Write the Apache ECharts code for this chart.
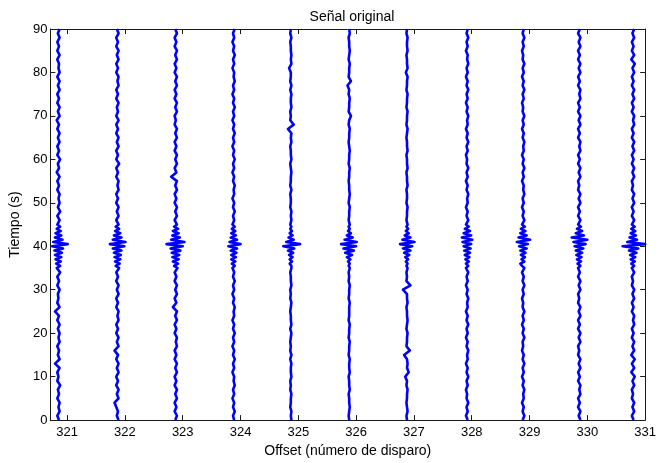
<!DOCTYPE html>
<html>
<head>
<meta charset="utf-8">
<script src="https://cdn.jsdelivr.net/npm/echarts@6/dist/echarts.min.js"></script>
<style>
html,body{margin:0;padding:0;background:#fff;}
#chart{width:659px;height:463px;}
</style>
</head>
<body>
<div id="chart"></div>
<script>
// Offset (número de disparo) de cada traza
const posiciones = [320.85, 321.87, 322.88, 323.88, 324.87, 325.88, 326.88, 327.92, 328.89, 329.86, 330.79];
// Marcas de los ejes
const marcasX = [321, 322, 323, 324, 325, 326, 327, 328, 329, 330, 331];
const marcasY = [0, 10, 20, 30, 40, 50, 60, 70, 80, 90];

// Muestreo temporal (s): 0..35 cada 1 s, 35.5..45 cada 0.5 s, 46..90 cada 1 s
const tiempos = [];
for (let t = 0; t <= 35; t++) tiempos.push(t);
for (let t = 35.5; t <= 45; t += 0.5) tiempos.push(t);
for (let t = 46; t <= 90; t++) tiempos.push(t);

// Amplitudes de cada traza (centésimas de unidad de offset)
const traza1 = [
  1,-2,2,0,2,-2,1,-1,3,-2, 0,-2,2,-6,2,-1,1,-2,2,0, 2,-1,2,-2,1,-6,2,-2,0,-1, 2,-2,1,-2,3,-3,
  3,-4,4,-5,5,-6,6,-7,8,-11, 16,-9,7,-6,5,-5,4,-3,3,-2,
  2,-2,3,-1,2,0,2,-2,1,-2, 2,-3,1,-1,3,-2,1,-2,2,-1, 2,-2,1,-3,2,-1,2,-2,1,-2, 2,-1,2,-2,2,0,1,-2,2,-2, 1,-2,2,-1,2
];
const traza2 = [
  2,-1,1,-2,-5,2,-1,2,-2,1, -2,2,-1,2,-2,1,-5,2,-1,2, -2,1,-2,2,0,2,-2,1,-2,2, -1,2,-2,1,-2,3,
  -3,4,-4,5,-5,6,-6,7,-8,12, -13,14,-8,7,-6,5,-4,3,-3,2,
  -2,2,-1,2,-2,1,-2,2,0,2, -2,1,-2,3,-2,1,-2,2,-1,2, -2,1,-2,2,-2,1,-1,2,-2,1, -2,2,0,2,-2,1,-2,2,-1,2, -2,1,-2,2,-1
];
const traza3 = [
  -1,2,-2,1,-2,2,-1,2,-2,1, -2,2,-1,2,-2,1,-2,2,0,2, -2,1,-2,2,-1,2,-5,1,-2,2, -1,2,-2,1,-2,3,
  -3,4,-5,5,-6,6,-7,8,-9,12, -16,15,-8,7,-6,5,-5,4,-3,2,
  -2,2,-1,2,-2,1,-2,2,-1,2, -8,1,-2,2,-1,2,-2,1,-2,2, -1,2,-2,0,-2,2,-1,2,-2,1, -2,2,-1,2,-2,1,-2,2,-1,2, -2,1,-2,2,-1
];
const traza4 = [
  1,-1,2,-1,1,-2,1,-1,2,0, 1,-2,1,-1,2,-1,1,-2,1,-1, 2,-1,1,-2,1,0,2,-1,1,-2, 1,-1,2,-1,1,-2,
  2,-3,3,-4,4,-4,5,-5,6,-9, 12,-7,6,-5,4,-4,3,-3,2,-2,
  1,-1,2,-1,1,-2,1,0,2,-1, 1,-2,1,-1,2,-1,1,-2,1,-1, 2,-1,1,-2,1,-1,2,-1,1,-2, 1,-1,2,0,1,-2,1,-1,2,-1, 1,-2,1,-1,2
];
const traza5 = [
  1,0,1,-1,0,0,1,-1,0,-1, 1,0,0,1,-1,1,-1,0,-1,0, 1,-1,1,0,0,-1,0,1,-1,0, -1,1,0,0,-1,1,
  1,-2,2,-2,3,-3,4,-5,6,-13, 16,-8,5,-4,3,-2,2,-1,1,-1,
  1,0,1,-1,0,0,-1,1,-1,0, 0,1,0,-1,1,0,0,-1,1,0, 1,-5,5,-1,0,-1,1,0,0,1, -1,1,-1,0,0,-3,1,0,1,0, 0,-1,1,-1,0
];
const traza6 = [
  0,-1,0,1,0,0,-1,1,0,0, -1,1,0,0,1,-1,0,0,1,-1, 0,0,1,-1,0,0,0,1,-1,0, 0,1,-1,0,-1,1,
  -1,1,-2,2,-4,5,-7,8,-10,12, -14,13,-8,6,-4,3,-2,1,-1,1,
  -1,0,0,1,-1,0,1,0,0,-1, 0,0,1,-1,0,0,1,0,-1,0, 0,1,-1,0,3,-1,0,0,1,-1, 0,-3,3,-1,0,0,1,-1,0,1, 0,0,-1,1,0
];
const traza7 = [
  0,-1,1,0,-1,0,0,1,-1,0, -3,3,0,1,0,-5,5,-1,0,0, 1,-1,0,1,0,0,-1,1,0,0, -7,6,-1,0,-1,1,
  -1,1,-2,2,-3,4,-5,6,-7,9, -12,13,-8,6,-4,3,-2,2,-1,1,
  -1,0,0,1,-1,0,0,-1,1,0, 0,-1,1,0,0,-1,1,0,0,-1, 0,1,-1,0,0,1,-1,0,0,1, -1,0,0,1,-2,1,0,0,-1,1, 0,0,1,-1,0
];
const traza8 = [
  1,-2,1,-1,2,-1,0,-2,1,-1, 2,-1,1,-2,1,0,2,-1,1,-2, 1,-1,2,-1,1,-2,1,0,2,-1, 1,-2,1,-1,2,-2,
  2,-2,3,-3,4,-4,5,-5,6,-6, 7,-8,9,-9,7,-6,5,-4,3,-2,
  2,-1,1,-2,1,0,2,-1,1,-2, 1,-1,2,-1,0,-2,1,-1,2,-1, 1,-2,1,0,2,-1,1,-2,1,-1, 2,-1,1,-2,1,-1,2,0,1,-2, 1,-1,2,-1,1
];
const traza9 = [
  -1,2,-1,1,-2,1,0,2,-1,1, -2,1,-1,2,-1,1,-2,0,-1,2, -1,1,-2,1,-1,2,-1,0,-2,1, -1,2,-1,1,-2,2,
  -2,-5,2,-3,3,-4,4,-5,6,-7, 8,-11,12,-8,6,-5,4,-4,3,-2,
  2,-1,1,-2,1,-1,2,0,1,-2, 1,-1,2,-1,1,-2,1,0,2,-1, 1,-2,1,-1,2,-1,0,-2,1,-1, 2,-1,1,-2,1,-1,2,-1,0,-2, 1,-1,2,-1,1
];
const traza10 = [
  2,-1,2,-2,1,-2,2,0,2,-2, 1,-2,2,-1,2,-2,0,-2,2,-1, 2,-2,1,-2,2,-1,2,-2,0,-2, 2,-1,2,-2,1,-2,
  2,-3,3,-4,4,-5,5,-6,7,-8, 11,-10,14,-13,8,-6,5,-4,3,-2,
  2,-2,1,-2,2,-1,2,-2,0,-2, 2,-1,2,-2,1,-2,2,0,2,-2, 1,-2,2,-1,2,-2,1,-2,2,0, 2,-2,1,-2,2,-1,2,-2,1,-2, 2,-1,2,-2,1
];
const traza11 = [
  1,-2,2,-1,2,-2,0,-2,2,-1, 3,-3,2,-2,3,-3,2,-1,2,-2, 1,-2,2,0,2,-2,1,-2,2,-1, 2,-2,0,-2,2,-2,
  2,-3,3,-4,4,-5,6,-7,9,-18, 21,-10,7,-6,5,-4,4,-3,3,-2,
  2,-2,1,-2,2,-1,2,-2,0,-2, 2,-1,2,-2,1,-2,2,-1,2,-2, 1,-2,2,0,2,-2,1,-2,2,-1, 2,-2,1,-2,2,-1,3,-3,2,-2, 1,-2,2,-1,2
];
const trazas = [traza1, traza2, traza3, traza4, traza5, traza6, traza7, traza8, traza9, traza10, traza11];

const FONT = '"Liberation Sans", Arial, Helvetica, sans-serif';
const AXIS_COLOR = '#1a1a1a';

const series = trazas.map((amp, k) => ({
  type: 'line',
  xAxisIndex: 0,
  yAxisIndex: 0,
  showSymbol: false,
  symbol: 'none',
  silent: true,
  clip: true,
  lineStyle: { color: '#0000ff', width: 2.6, join: 'round', cap: 'butt' },
  data: amp.map((a, i) => [posiciones[k] + a / 100, tiempos[i]])
}));

const chart = echarts.init(document.getElementById('chart'), null, { renderer: 'canvas' });
chart.setOption({
  animation: false,
  backgroundColor: '#ffffff',
  title: {
    text: 'Señal original',
    left: 347,
    textAlign: 'center',
    top: 5,
    textStyle: { fontFamily: FONT, fontSize: 14, fontWeight: 'normal', color: '#000' }
  },
  grid: { left: 46, top: 29, right: 11, bottom: 40, containLabel: false },
  xAxis: [
    {
      type: 'value', position: 'bottom', min: 320.71, max: 331,
      name: 'Offset (número de disparo)', nameLocation: 'middle', nameGap: 22,
      nameTextStyle: { fontFamily: FONT, fontSize: 14, color: '#000' },
      axisLine: { show: true, onZero: false, lineStyle: { color: AXIS_COLOR, width: 1 } },
      axisTick: { show: true, inside: true, length: 5, customValues: marcasX, lineStyle: { color: AXIS_COLOR } },
      axisLabel: { show: true, customValues: marcasX, margin: 6, fontFamily: FONT, fontSize: 13, color: '#000',
        formatter: v => String(Math.round(v)) },
      splitLine: { show: false }
    },
    {
      type: 'value', position: 'top', min: 320.71, max: 331,
      axisLine: { show: true, onZero: false, lineStyle: { color: AXIS_COLOR, width: 1 } },
      axisTick: { show: true, inside: true, length: 5, customValues: marcasX, lineStyle: { color: AXIS_COLOR } },
      axisLabel: { show: false },
      splitLine: { show: false }
    }
  ],
  yAxis: [
    {
      type: 'value', position: 'left', min: 0, max: 90, interval: 10,
      name: 'Tiempo (s)', nameLocation: 'middle', nameGap: 25,
      nameTextStyle: { fontFamily: FONT, fontSize: 14, color: '#000' },
      axisLine: { show: true, onZero: false, lineStyle: { color: AXIS_COLOR, width: 1 } },
      axisTick: { show: true, inside: true, length: 5, customValues: marcasY, lineStyle: { color: AXIS_COLOR } },
      axisLabel: { show: true, customValues: marcasY, margin: 3, fontFamily: FONT, fontSize: 13, color: '#000' },
      splitLine: { show: false }
    },
    {
      type: 'value', position: 'right', min: 0, max: 90, interval: 10,
      axisLine: { show: true, onZero: false, lineStyle: { color: AXIS_COLOR, width: 1 } },
      axisTick: { show: true, inside: true, length: 5, customValues: marcasY, lineStyle: { color: AXIS_COLOR } },
      axisLabel: { show: false },
      splitLine: { show: false }
    }
  ],
  series: series
});
</script>
</body>
</html>
